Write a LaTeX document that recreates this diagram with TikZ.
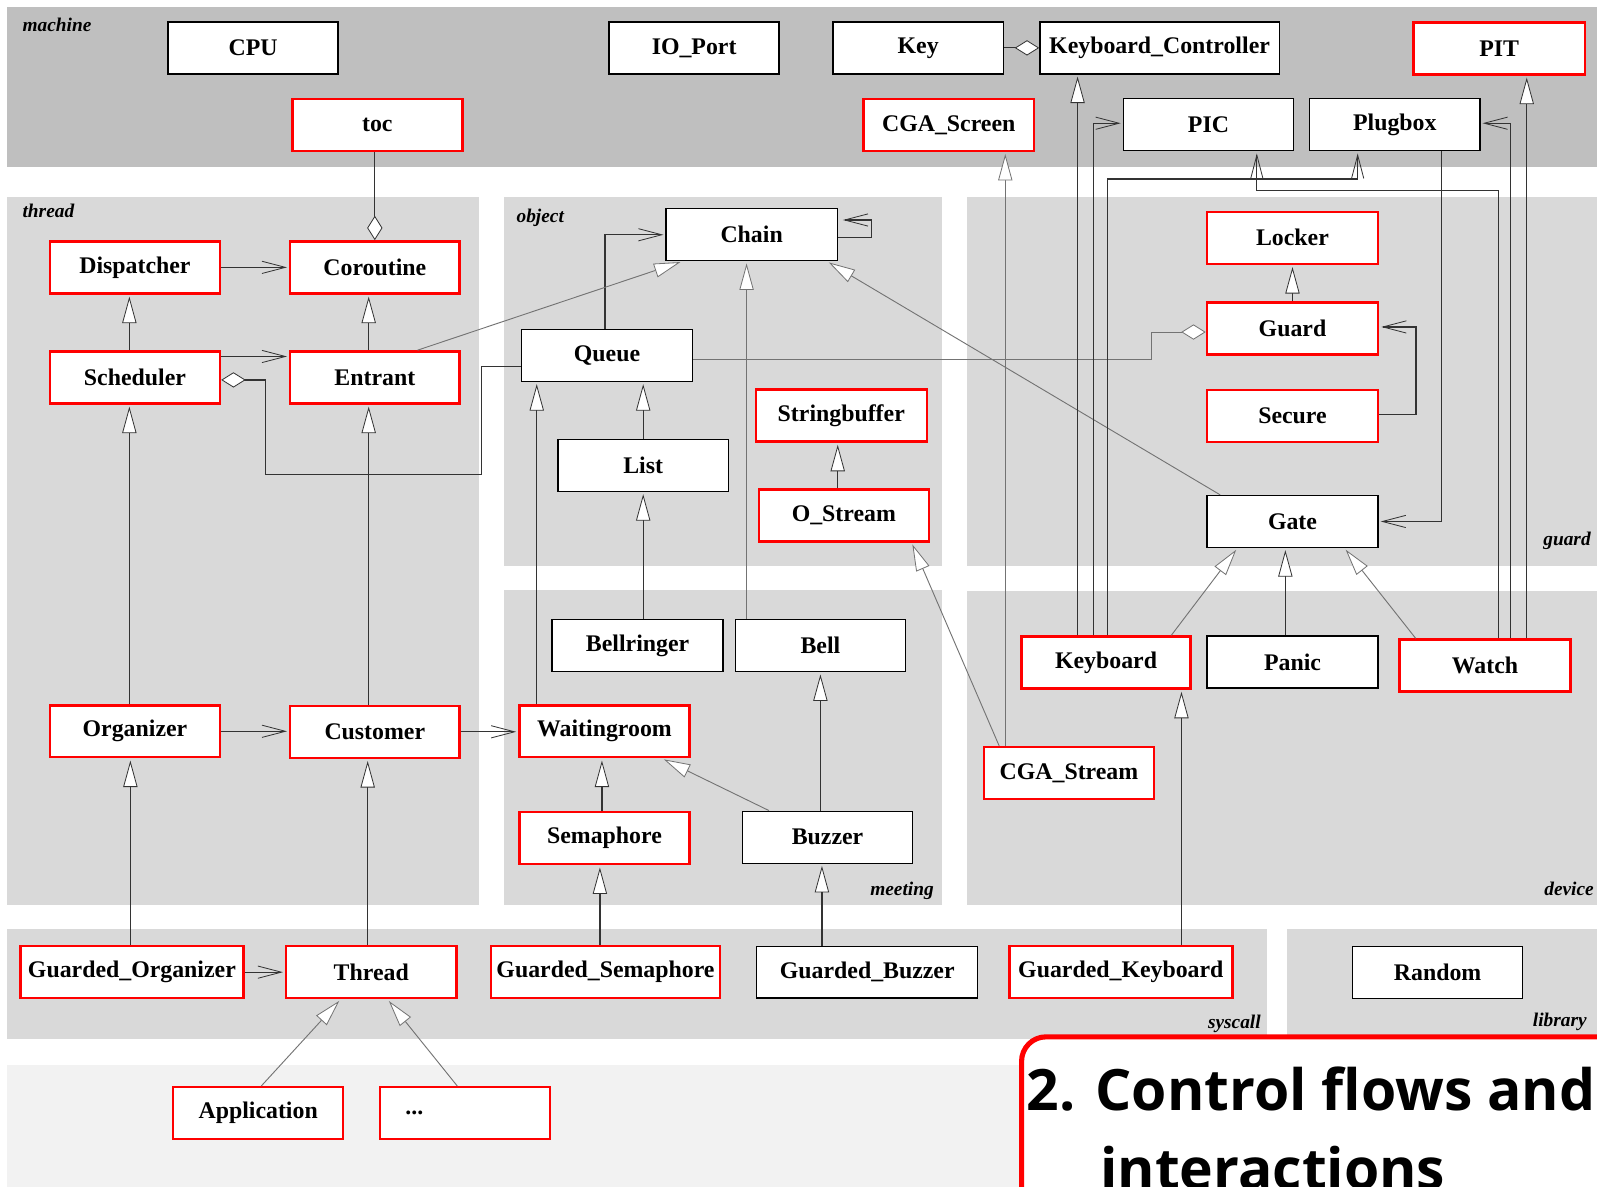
\documentclass[tikz,border=0pt]{standalone}
\usepackage{fontspec}
\setmainfont{Liberation Serif}
\newfontfamily\headingfamily{Open Sans}
\usetikzlibrary{arrows.meta,calc}

\definecolor{machinegray}{gray}{0.75}
\definecolor{panelgray}{gray}{0.85}
\definecolor{basegray}{gray}{0.95}
\definecolor{linedark}{gray}{0.2}
\definecolor{linelight}{gray}{0.45}
\definecolor{boxred}{rgb}{1,0,0}

\newcommand\clsfont{\fontsize{23.4}{26}\selectfont\bfseries}
\newcommand\paneltagfont{\fontsize{19}{21}\selectfont\bfseries\itshape}
\newcommand\headingface{\headingfamily\bfseries\fontsize{56}{68}\selectfont}

\begin{document}
\begin{tikzpicture}[x=1pt,y=-1pt,
  cls/.style={draw=black, line width=1.3pt, fill=white, minimum width=167pt,
    minimum height=51pt, inner sep=0pt, font=\clsfont},
  clsred/.style={cls, draw=boxred, line width=2.4pt},
  paneltag/.style={font=\paneltagfont, inner sep=0pt},
  conn/.style={draw=linedark, line width=1.2pt},
  faint/.style={draw=linelight, line width=0.9pt},
  inh/.style={-{Triangle[length=26pt,width=14pt,fill=white,line width=0.8pt]}, shorten >=2pt},
  dep/.style={-{Straight Barb[length=23pt,width=12pt,line width=0.8pt]}, shorten >=2pt},
  agg/.style={-{Diamond[length=24pt,width=15pt,fill=white,line width=0.8pt]}},
]
\useasboundingbox (0,0) rectangle (1568,1165);
\clip (0,0) rectangle (1568,1165);
\fill[white] (0,0) rectangle (1568,1165);

% package areas
\fill[machinegray] (7,7) rectangle (1568,164);
\fill[panelgray] (7,193) rectangle (470,889);
\fill[panelgray] (495,193) rectangle (925,556);
\fill[panelgray] (949,193) rectangle (1568,556);
\fill[panelgray] (495,579) rectangle (925,889);
\fill[panelgray] (949,580) rectangle (1568,889);
\fill[panelgray] (7,912) rectangle (1244,1020);
\fill[panelgray] (1264,912) rectangle (1568,1020);
\fill[basegray] (7,1046) rectangle (1568,1165);

% package names
\node[paneltag, anchor=base west] (tmachine) at (22,31) {machine};
\node[paneltag, anchor=base west] (tthread) at (22,214) {thread};
\node[paneltag, anchor=base west] (tobject) at (507,218) {object};
\node[paneltag, anchor=base east] (tguard) at (1562,536) {guard};
\node[paneltag, anchor=base east] (tmeeting) at (917,879) {meeting};
\node[paneltag, anchor=base east] (tdevice) at (1565,879) {device};
\node[paneltag, anchor=base east] (tsyscall) at (1238,1010) {syscall};
\node[paneltag, anchor=base east] (tlibrary) at (1558,1008) {library};

% machine
\node[cls] (cpu) at (248.5,47) {CPU};
\node[cls] (ioport) at (681.5,47) {IO\_Port};
\node[cls] (key) at (901.5,47) {Key};
\node[cls, minimum width=235pt] (kbc) at (1138.5,47) {Keyboard\_Controller};
\node[clsred, minimum width=168pt] (pit) at (1472,47.5) {PIT};
\node[clsred] (toc) at (370.5,122.5) {toc};
\node[clsred] (cgascr) at (931.5,122.5) {CGA\_Screen};
\node[cls] (pic) at (1186.5,122.5) {PIC};
\node[cls] (plugbox) at (1369.5,122.5) {Plugbox};

% thread
\node[clsred] (disp) at (132.5,262.5) {Dispatcher};
\node[clsred, minimum width=166pt] (corout) at (368,262.5) {Coroutine};
\node[clsred] (sched) at (132.5,370.5) {Scheduler};
\node[clsred, minimum width=166pt] (entrant) at (368,370.5) {Entrant};
\node[clsred] (organizer) at (132.5,718) {Organizer};
\node[clsred, minimum width=166pt] (customer) at (368,718.5) {Customer};

% object
\node[cls, minimum width=168pt] (chain) at (738,230.5) {Chain};
\node[cls, minimum width=168pt] (queue) at (596,349) {Queue};
\node[cls] (list) at (631.5,457) {List};
\node[clsred, minimum width=168pt] (strbuf) at (826,408) {Stringbuffer};
\node[clsred] (ostream) at (828.5,506) {O\_Stream};

% meeting
\node[cls, minimum width=168pt] (bellringer) at (626,634) {Bellringer};
\node[cls] (bell) at (805.5,634) {Bell};
\node[clsred] (waiting) at (593.5,718) {Waitingroom};
\node[clsred] (semaphore) at (593.5,823) {Semaphore};
\node[cls] (buzzer) at (812.5,822) {Buzzer};

% guard
\node[clsred, minimum width=168pt] (locker) at (1269,233.5) {Locker};
\node[clsred, minimum width=168pt] (guard) at (1269,322.5) {Guard};
\node[clsred, minimum width=168pt] (secure) at (1269,408.5) {Secure};
\node[cls, minimum width=168pt] (gate) at (1269,512) {Gate};

% device
\node[clsred, minimum width=166pt] (keyboard) at (1086,650.5) {Keyboard};
\node[cls, minimum width=168pt] (panic) at (1269,650) {Panic};
\node[clsred, minimum width=168pt] (watch) at (1458,653.5) {Watch};
\node[clsred] (cgastream) at (1049.5,759) {CGA\_Stream};

% syscall and library
\node[clsred, minimum width=219pt] (gorg) at (129.5,954.5) {Guarded\_Organizer};
\node[clsred] (thread) at (364.5,954.5) {Thread};
\node[clsred, minimum width=225pt] (gsem) at (594.5,954.5) {Guarded\_Semaphore};
\node[cls, minimum width=217pt] (gbuzz) at (851.5,954.5) {Guarded\_Buzzer};
\node[clsred, minimum width=219pt] (gkey) at (1100.5,954.5) {Guarded\_Keyboard};
\node[cls] (random) at (1411.5,955) {Random};

% applications
\node[clsred] (app) at (253.5,1093) {Application};
\node[clsred, text width=117pt, inner xsep=25pt, align=left] (dots) at (456.5,1093) {...};

% ---- relations ----
% thread package
\draw[conn, agg] (corout.north |- toc.south) -- (corout.north);
\draw[conn, dep] (disp.east) -- (corout.west);
\draw[conn, inh] ([xshift=-5.5pt]sched.north) -- ([xshift=-5.5pt]disp.south);
\draw[conn, inh] ([xshift=-6pt]entrant.north) -- ([xshift=-6pt]corout.south);
\draw[conn, dep] ([yshift=20.5pt]sched.east) -- ([yshift=20.5pt]entrant.west);
\draw[conn, agg] ([yshift=-11pt]queue.west) -| (473,466) -| (261,373) -- ([yshift=-2.5pt]sched.east);
\draw[conn, inh] ([xshift=-5.5pt]organizer.north) -- ([xshift=-5.5pt]sched.south);
\draw[conn, inh] ([xshift=-6pt]customer.north) -- ([xshift=-6pt]entrant.south);
\draw[conn, dep] (organizer.east) -- (organizer.east -| customer.west);
\draw[conn, dep] (customer.east) -- (customer.east -| waiting.west);

% syscall to lower layers
\draw[conn, inh] ([xshift=-1.5pt]gorg.north) -- ([xshift=-1.5pt]gorg.north |- organizer.south);
\draw[conn, inh] ([xshift=-3.5pt]thread.north) -- ([xshift=-3.5pt]thread.north |- customer.south);
\draw[conn, dep] (gorg.east) -- (thread.west);
\draw[faint, inh] ([xshift=3pt]app.north) -- ([xshift=-30pt]thread.south);
\draw[faint, inh] ([xshift=-7.5pt]dots.north) -- ([xshift=16pt]thread.south);
\draw[conn, inh] ([xshift=-5.5pt]gsem.north) -- ([xshift=-5.5pt]gsem.north |- semaphore.south);
\draw[conn, inh] ([xshift=-44.5pt]gbuzz.north) -- ([xshift=-44.5pt]gbuzz.north |- buzzer.south);
\draw[conn, inh] ([xshift=59.5pt]gkey.north) -- ([xshift=59.5pt]gkey.north |- keyboard.south);

% meeting package
\draw[conn, inh] ([xshift=-2.5pt]semaphore.north) -- ([xshift=-2.5pt]semaphore.north |- waiting.south);
\draw[faint, inh] ([xshift=-57.5pt]buzzer.north) -- ([xshift=56.5pt]waiting.south);
\draw[conn, inh] (bell.south |- buzzer.north) -- (bell.south);
\draw[conn, inh] (list.south |- bellringer.north) -- (list.south);
\draw[faint, inh] ([xshift=-72.5pt]bell.north) -- ([xshift=-72.5pt]bell.north |- chain.south);
\draw[conn, inh] ([xshift=-66.5pt]waiting.north) -- ([xshift=-66.5pt]waiting.north |- queue.south);

% object package
\draw[conn, inh] (list.north) -- (list.north |- queue.south);
\draw[conn, dep] ([xshift=-2pt]queue.north) |- (chain.west);
\draw[faint, inh] ([xshift=42pt]entrant.north) -- ([xshift=-68pt]chain.south);
\draw[conn, dep] ([yshift=-2.5pt]chain.east) -- ++(33,0) -- ++(0,-17) -- ([xshift=3pt,yshift=14.5pt]chain.east);
\draw[faint, inh] ([xshift=-71pt]gate.north) -- ([xshift=74pt]chain.south);
\draw[conn, inh] ([xshift=-6pt]ostream.north) -- ([xshift=-6pt]ostream.north |- strbuf.south);
\draw[faint, inh] ([xshift=-68.5pt]cgastream.north) -- ([xshift=66.5pt]ostream.south);
\draw[faint, inh] ([xshift=-62.5pt]cgastream.north) -- ([xshift=-62.5pt]cgastream.north |- cgascr.south);

% guard package
\draw[faint, agg] ([yshift=-4pt]queue.east) -| (1131,326) -- ([yshift=-3.5pt]guard.west);
\draw[conn, inh] (guard.north) -- (locker.south);
\draw[conn, dep] ([yshift=1.5pt]secure.east) -- ++(36,0) |- ([yshift=1.5pt]guard.east);
\draw[conn, dep] ([xshift=45.5pt]plugbox.south) |- (gate.east);

% device package
\draw[faint, inh] ([xshift=64pt]keyboard.north) -- ([xshift=-54pt]gate.south);
\draw[conn, inh] ([xshift=-7pt]panic.north) -- ([xshift=-7pt]gate.south);
\draw[faint, inh] ([xshift=-68pt]watch.north) -- ([xshift=51pt]gate.south);
\draw[conn, inh] ([xshift=-28pt]keyboard.north) -- ([xshift=-28pt]keyboard.north |- kbc.south);
\draw[conn, dep] ([xshift=-12pt]keyboard.north) |- ([yshift=1.5pt]pic.west);
\draw[conn, dep] ([xshift=1pt]keyboard.north) -- ++(0,-448) -| ([xshift=-36.5pt]plugbox.south);
\draw[conn, dep] ([xshift=13pt]watch.north) -- ++(0,-440) -| ([xshift=47.5pt]pic.south);
\draw[conn, dep] ([xshift=25pt]watch.north) |- ([yshift=1.5pt]plugbox.east);
\draw[conn, inh] ([xshift=41pt]watch.north) -- ([xshift=41pt]watch.north |- pit.south);

% machine package
\draw[conn, agg] (key.east) -- (kbc.west);

% chapter heading
\draw[boxred, line width=5pt, fill=white, rounded corners=24pt] (1003,1018) rectangle (1660,1280);
\node[anchor=base west, inner sep=0pt, font=\headingface] (head1) at (1008,1090) {2. Control flows and};
\node[anchor=base west, inner sep=0pt, font=\headingface] (head2) at (1080,1168) {interactions};
\end{tikzpicture}
\end{document}
